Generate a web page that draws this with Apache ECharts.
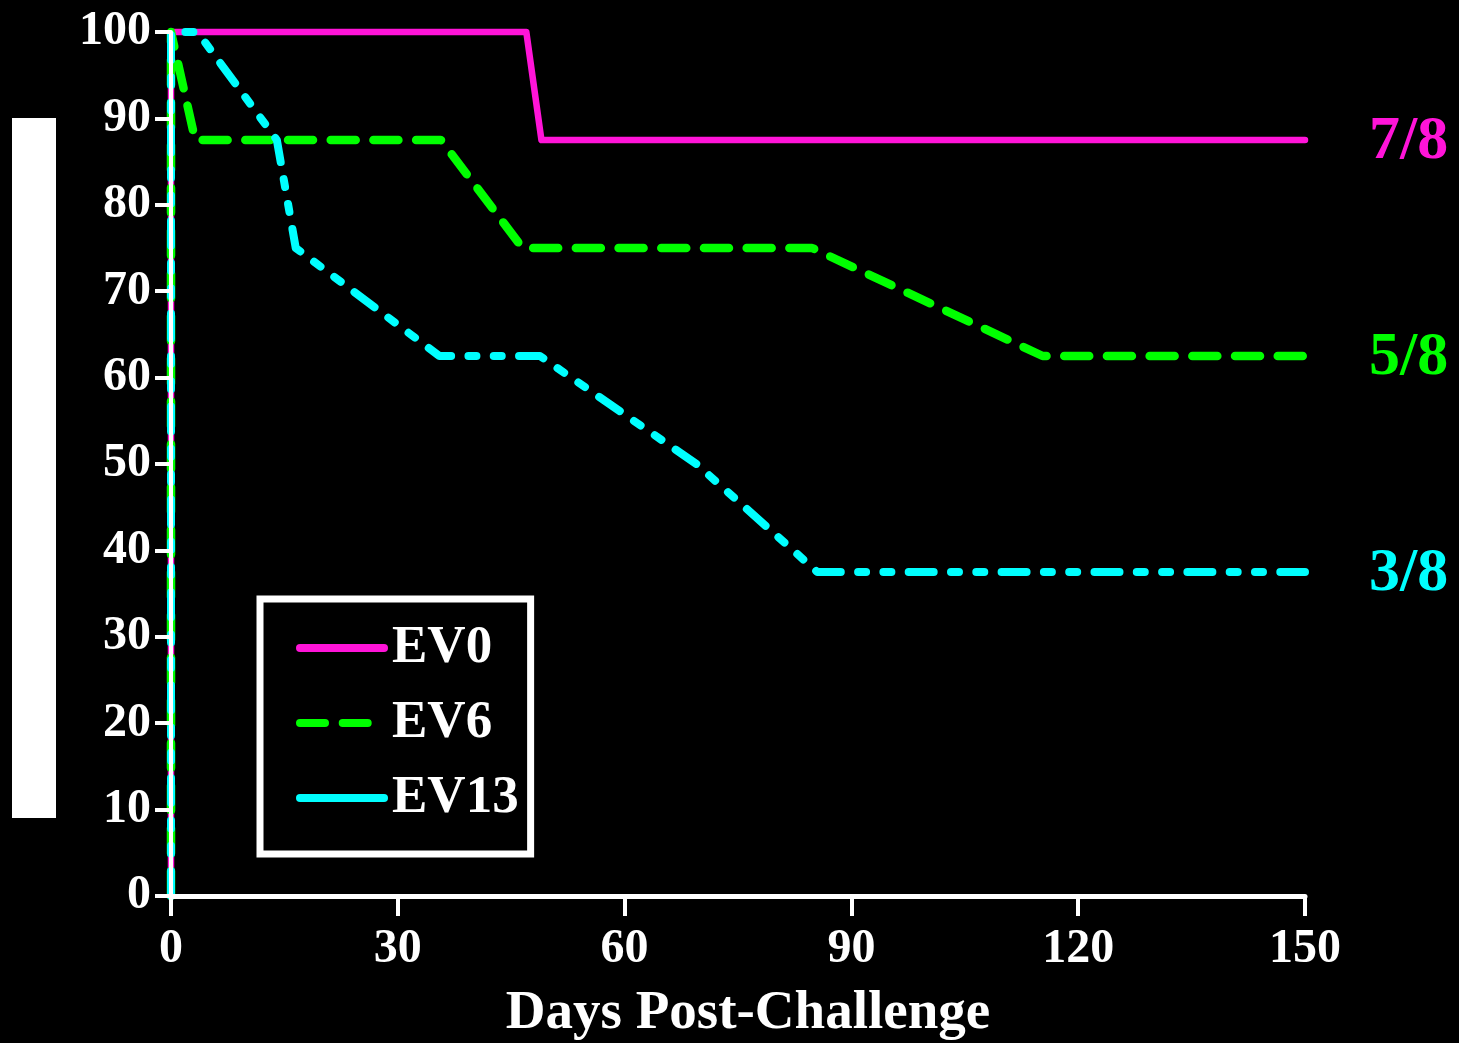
<!DOCTYPE html>
<html>
<head>
<meta charset="utf-8">
<script src="https://cdn.jsdelivr.net/npm/echarts@6/dist/echarts.min.js"></script>
<style>
html,body{margin:0;padding:0;background:#000;}
#chart{width:1459px;height:1043px;}
</style>
</head>
<body>
<div id="chart"></div>
<script>
// ---- data ----
const seriesNames = ['EV0', 'EV6', 'EV13'];
const endLabels = ['7/8', '5/8', '3/8'];
const ev0Days = [0, 0, 47, 49, 150];
const ev0Survival = [0, 100, 100, 87.5, 87.5];
const ev6Days = [0, 0, 3.2, 35.7, 46.5, 84.8, 115.3, 150];
const ev6Survival = [0, 100, 87.5, 87.5, 75, 75, 62.5, 62.5];
const ev13Days = [0, 0, 3.5, 14, 16.5, 35.5, 48.8, 69.5, 85.5, 150];
const ev13Survival = [0, 100, 100, 87.5, 75, 62.5, 62.5, 50, 37.5, 37.5];
const xTicks = [0, 30, 60, 90, 120, 150];
const yTicks = [0, 10, 20, 30, 40, 50, 60, 70, 80, 90, 100];
const xTitle = 'Days Post-Challenge';

const colors = ['#ff14d8', '#00ff00', '#00ffff'];
const FONT = '"Liberation Serif", "Times New Roman", serif';

function pairs(xs, ys) { return xs.map((x, i) => [x, ys[i]]); }
const datasets = [pairs(ev0Days, ev0Survival), pairs(ev6Days, ev6Survival), pairs(ev13Days, ev13Survival)];
const lineStyles = [
  { width: 6.5, type: 'solid' },
  { width: 8.5, type: [25, 17.7] },
  { width: 8, type: [25, 17.3, 8, 17.3, 8, 17.3] }
];

const chart = echarts.init(document.getElementById('chart'), null, { renderer: 'canvas' });

const option = {
  backgroundColor: '#000',
  animation: false,
  grid: { left: 171, right: 154, top: 32, bottom: 147, containLabel: false, outerBoundsMode: 'none' },
  xAxis: {
    type: 'value', min: xTicks[0], max: xTicks[xTicks.length - 1], interval: 30,
    name: xTitle, nameLocation: 'middle', nameGap: 90,
    nameTextStyle: { color: '#fff', fontFamily: FONT, fontWeight: 'bold', fontSize: 55, padding: [0, 0, 0, 20] },
    axisLine: { show: true, lineStyle: { color: '#fff', width: 5 } },
    axisTick: { show: true, length: 20, lineStyle: { color: '#fff', width: 4 } },
    axisLabel: { color: '#fff', fontFamily: FONT, fontWeight: 'bold', fontSize: 48, margin: 30 },
    splitLine: { show: false },
    z: 5
  },
  yAxis: {
    type: 'value', min: yTicks[0], max: yTicks[yTicks.length - 1], interval: 10,
    axisLine: { show: true, lineStyle: { color: '#fff', width: 4 } },
    axisTick: { show: true, length: 16, lineStyle: { color: '#fff', width: 4 } },
    axisLabel: { color: '#fff', fontFamily: FONT, fontWeight: 'bold', fontSize: 48, margin: 20 },
    splitLine: { show: false },
    z: 5
  },
  legend: {
    show: true, orient: 'vertical', left: 260, top: 599,
    backgroundColor: '#000', borderColor: '#fff', borderWidth: 7, borderRadius: 0,
    padding: [21, 12, 28, 36],
    itemWidth: 84, itemHeight: 8, itemGap: 19,
    itemStyle: { color: 'rgba(0,0,0,0)', borderColor: 'rgba(0,0,0,0)', borderWidth: 0 },
    textStyle: { color: '#fff', fontFamily: FONT, fontWeight: 'bold', fontSize: 53, lineHeight: 56, padding: [0, 0, 0, 3] },
    data: [
      { name: seriesNames[0], lineStyle: { type: 'solid', width: 8 } },
      { name: seriesNames[1], lineStyle: { type: [25, 17.7], width: 8, cap: 'round' } },
      { name: seriesNames[2], lineStyle: { type: 'solid', width: 8 } }
    ]
  },
  graphic: [
    { type: 'rect', left: 12, top: 118, shape: { width: 44, height: 700 }, style: { fill: '#fff' }, z: 1 }
  ],
  series: seriesNames.map((name, i) => ({
    name: name,
    type: 'line',
    data: datasets[i],
    showSymbol: false,
    symbol: 'none',
    clip: false,
    z: 2 + i,
    color: colors[i],
    lineStyle: Object.assign({ color: colors[i], cap: 'round', join: 'round' }, lineStyles[i]),
    endLabel: {
      show: true,
      formatter: endLabels[i],
      color: colors[i],
      fontFamily: FONT,
      fontWeight: 'bold',
      fontSize: 62,
      distance: 64,
      offset: [0, 2]
    },
    emphasis: { disabled: true }
  }))
};
chart.setOption(option);
</script>
</body>
</html>
